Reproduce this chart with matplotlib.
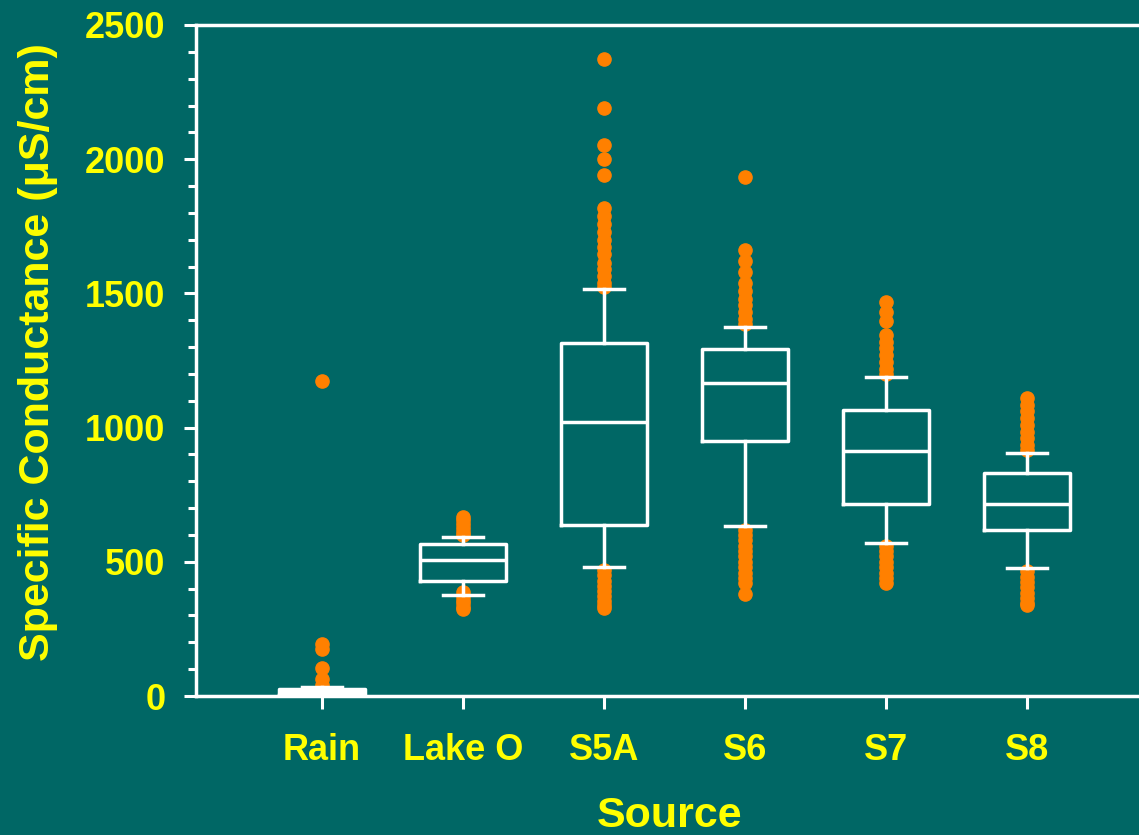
import matplotlib
matplotlib.use("Agg")
import matplotlib.pyplot as plt
from matplotlib.ticker import MultipleLocator

# categories and box statistics (uS/cm)
sources = ["Rain", "Lake O", "S5A", "S6", "S7", "S8"]
whislo = [0, 377, 482, 633, 569, 476]
q1 = [5, 428, 637, 951, 715, 618]
med = [15, 505, 1021, 1165, 913, 715]
q3 = [25, 568, 1315, 1292, 1064, 830]
whishi = [35, 591, 1516, 1374, 1187, 904]

# outliers
out_rain = [1175, 192, 176, 105, 62, 42, 0]
out_lake = [668, 655, 640, 625, 610, 598, 388, 372, 358, 345, 333, 325]
out_s5a = [2372, 2192, 2052, 2001, 1942, 1817, 1790, 1760, 1730, 1700, 1672,
           1645, 1615, 1590, 1565, 1540, 1525,
           470, 450, 430, 410, 392, 372, 355, 338, 327]
out_s6 = [1934, 1663, 1622, 1581, 1540, 1510, 1480, 1455, 1430, 1405, 1385,
          620, 600, 580, 560, 540, 520, 500, 480, 460, 440, 420, 380]
out_s7 = [1469, 1432, 1397, 1345, 1320, 1295, 1270, 1245, 1220, 1200,
          560, 540, 520, 500, 480, 460, 440, 420]
out_s8 = [1109, 1085, 1060, 1035, 1010, 985, 960, 935, 915,
          465, 445, 425, 405, 385, 365, 345, 339]
outliers = [out_rain, out_lake, out_s5a, out_s6, out_s7, out_s8]

bg = "#006765"
yellow = "#FFFF00"
white = "white"
orange = "#FF8000"

plt.rcParams['font.family'] = ['Liberation Sans', 'DejaVu Sans']
plt.rcParams['font.weight'] = 'bold'

fig = plt.figure(figsize=(11.39, 8.35), dpi=100)
fig.patch.set_facecolor(bg)
ax = fig.add_axes([196/1139, 1 - 696/835, 1 - 196/1139, (696 - 25)/835])
ax.set_facecolor(bg)

stats = []
for i, name in enumerate(sources):
    stats.append(dict(label=name, whislo=whislo[i], q1=q1[i], med=med[i],
                      q3=q3[i], whishi=whishi[i], fliers=outliers[i]))

pos = list(range(1, len(sources) + 1))
lw = 2.5
ax.bxp(stats, positions=pos, widths=0.61, capwidths=0.29,
       boxprops=dict(color=white, linewidth=lw),
       whiskerprops=dict(color=white, linewidth=lw),
       capprops=dict(color=white, linewidth=lw),
       medianprops=dict(color=white, linewidth=lw),
       flierprops=dict(marker='o', markersize=9.5, markerfacecolor=orange,
                       markeredgecolor=orange, linestyle='none', zorder=1.5))

ax.set_xlim(1 - 126/141, 1 + (1139 - 322)/141)
ax.set_ylim(0, 2500)
ax.yaxis.set_major_locator(MultipleLocator(500))
ax.yaxis.set_minor_locator(MultipleLocator(100))

for s in ['left', 'top', 'bottom']:
    ax.spines[s].set_color(white)
    ax.spines[s].set_linewidth(2.5)
ax.spines['right'].set_visible(False)

ax.tick_params(axis='y', which='major', length=9, width=2.2, color=white,
               labelcolor=yellow, labelsize=26, pad=13)
ax.tick_params(axis='y', which='minor', length=6, width=2.2, color=white)
ax.tick_params(axis='x', which='major', length=9, width=2.2, color=white,
               labelcolor=yellow, labelsize=26, pad=18)
for lab in ax.get_xticklabels() + ax.get_yticklabels():
    lab.set_fontweight('bold')

ax.set_ylabel("Specific Conductance (\u03bcS/cm)", color=yellow, fontsize=31,
              fontweight='bold', va='center')
ax.yaxis.set_label_coords(-(196 - 38) / (1139 - 196), (696 - 352) / 671)
ax.set_xlabel("Source", color=yellow, fontsize=31, fontweight='bold',
              va='center')
ax.xaxis.set_label_coords((670 - 196) / (1139 - 196), -(816 - 696) / 671)

fig.savefig("out.png", dpi=100, facecolor=bg)
